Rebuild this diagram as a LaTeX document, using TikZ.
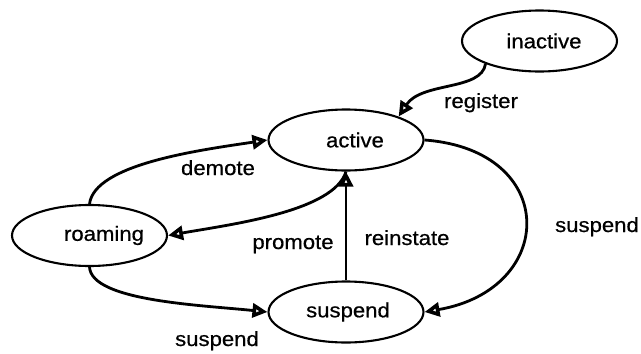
\documentclass[tikz,border=0pt]{standalone}
\usepackage{fontspec}
\setmainfont{Liberation Sans}[FakeStretch=1.08,FakeBold=0.6]
\usetikzlibrary{shapes.geometric,arrows.meta}

\tikzset{
  state/.style={ellipse,draw,line width=2.1pt,minimum width=155pt,minimum height=61pt,
    inner sep=0pt,font=\fontsize{20.5}{24}\selectfont},
  trans/.style={line width=2.8pt,-{Triangle[open,length=15pt,width=14pt,line width=3.6pt]}},
  tlabel/.style={anchor=base,inner sep=0pt,font=\fontsize{20.5}{24}\selectfont}
}

\begin{document}
\begin{tikzpicture}[x=1pt,y=1pt]
  \useasboundingbox (0,0) rectangle (641,-354);

  % states
  \node[state] (inactive) at (539.5,-41) {\hspace*{9pt}inactive};
  \node[state] (active) at (346,-140) {\hspace*{18pt}active};
  \node[state] (roaming) at (89.5,-235.5) {\hspace*{29pt}roaming};
  \node[state] (suspend) at (346,-312) {\hspace*{4pt}suspend};

  % transitions
  \draw[trans] (inactive.203) .. controls +(-4,-27) and +(23,35) .. (active.24);
  \draw[trans] (roaming.north) .. controls +(5,40) and +(-67,-10) .. (active.west);
  \draw[trans] (active.south) .. controls +(-12,-40) and +(62,11) .. (roaming.east);
  \draw[trans] (suspend.north) -- (active.south);
  \draw[trans] (roaming.south) .. controls +(2,-34) and +(-67,7) .. (suspend.west);
  \draw[trans] (active.east) .. controls +(135,-10) and +(133,23) .. (suspend.east);

  % transition labels
  \node[tlabel] (lregister) at (481,-108) {register};
  \node[tlabel] (ldemote) at (218,-175) {demote};
  \node[tlabel] (lpromote) at (293,-249) {promote};
  \node[tlabel] (lreinstate) at (407,-245) {reinstate};
  \node[tlabel] (lsuspright) at (597,-232) {suspend};
  \node[tlabel] (lsuspleft) at (217,-346) {suspend};
\end{tikzpicture}
\end{document}
